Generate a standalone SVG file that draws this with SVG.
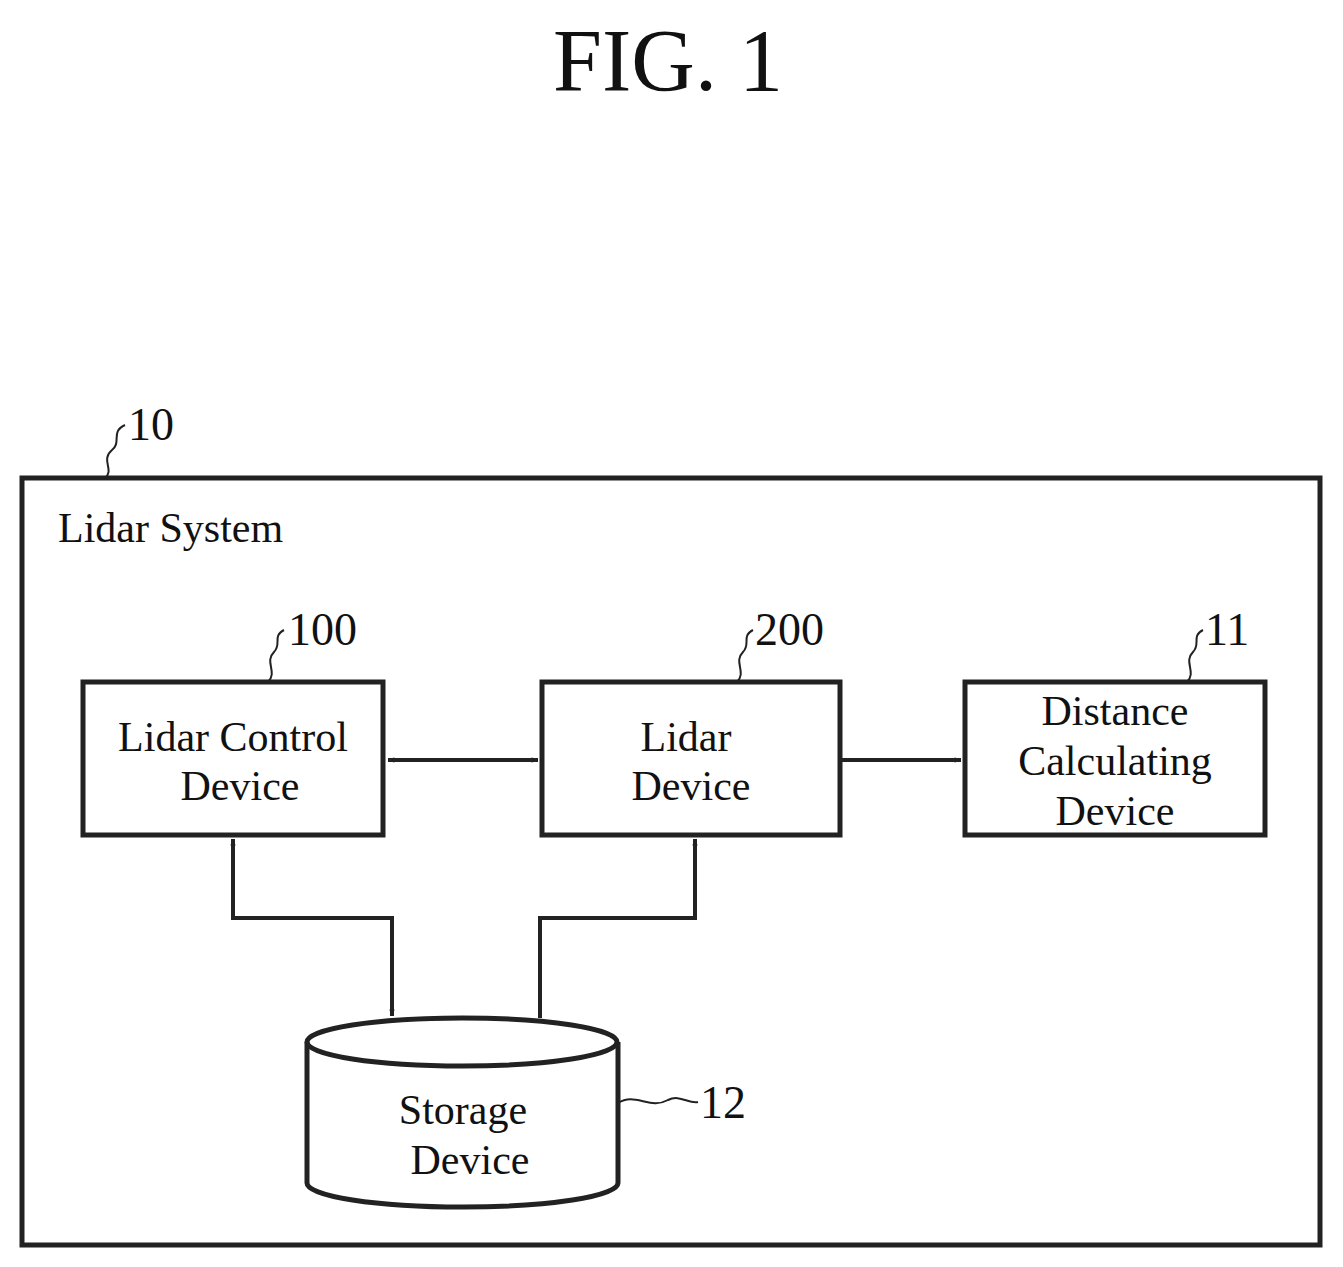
<svg xmlns="http://www.w3.org/2000/svg" width="1343" height="1267" viewBox="0 0 1343 1267">
<defs>
<style>
.b{fill:none;stroke:#222;stroke-width:5}
.l{fill:none;stroke:#222;stroke-width:4}
.q{fill:none;stroke:#222;stroke-width:2}
text{font-family:"Liberation Serif",serif;fill:#111}
.t{font-size:42px;text-anchor:middle}
.n{font-size:46px}
</style>
<marker id="a" viewBox="0 0 20 20" refX="19" refY="10" markerWidth="7" markerHeight="7" orient="auto-start-reverse" markerUnits="userSpaceOnUse">
<path d="M0,2 L20,10 L0,18 L6,10 Z" fill="#222"/>
</marker>
</defs>
<rect width="1343" height="1267" fill="#fff"/>
<text x="668" y="90" font-size="88" text-anchor="middle">FIG. 1</text>
<g id="n10">
<rect class="b" x="22" y="478" width="1298" height="767"/>
<text x="58" y="542" font-size="42">Lidar System</text>
<text class="n" x="128" y="440">10</text>
<path class="q" d="M105,478 C115,470 100,460 112,450 C122,442 110,432 125,425"/>
</g>
<g id="n100">
<rect class="b" x="83" y="682" width="300" height="153"/>
<text class="t" x="233" y="751">Lidar Control</text>
<text class="t" x="240" y="800">Device</text>
<text class="n" x="288" y="645">100</text>
<path class="q" d="M268,682 C278,672 264,662 274,652 C282,644 272,636 284,630"/>
</g>
<g id="n200">
<rect class="b" x="542" y="682" width="298" height="153"/>
<text class="t" x="686" y="751">Lidar</text>
<text class="t" x="691" y="800">Device</text>
<text class="n" x="755" y="645">200</text>
<path class="q" d="M737,682 C747,672 733,662 743,652 C751,644 741,636 753,630"/>
</g>
<g id="n11">
<rect class="b" x="965" y="682" width="300" height="153"/>
<text class="t" x="1115" y="725">Distance</text>
<text class="t" x="1115" y="775">Calculating</text>
<text class="t" x="1115" y="825">Device</text>
<text class="n" x="1205" y="645">11</text>
<path class="q" d="M1187,682 C1197,672 1183,662 1193,652 C1201,644 1191,636 1203,630"/>
</g>
<g id="n12">
<path class="b" d="M307,1042 L307,1183 A155,24 0 0 0 618,1183 L618,1042"/>
<ellipse class="b" cx="462" cy="1042" rx="155" ry="24"/>
<text class="t" x="463" y="1124">Storage</text>
<text class="t" x="470" y="1174">Device</text>
<text class="n" x="700" y="1118">12</text>
<path class="q" d="M618,1103 C635,1092 650,1110 668,1100 C680,1094 688,1104 698,1102"/>
</g>
<g id="connectors">
<path class="l" d="M388,760 L538,760" marker-start="url(#a)" marker-end="url(#a)"/>
<path class="l" d="M840,760 L961,760" marker-end="url(#a)"/>
<path class="l" d="M233,839 L233,918 L392,918 L392,1016" marker-start="url(#a)" marker-end="url(#a)"/>
<path class="l" d="M540,1018 L540,918 L695,918 L695,839" marker-end="url(#a)"/>
</g>
</svg>
